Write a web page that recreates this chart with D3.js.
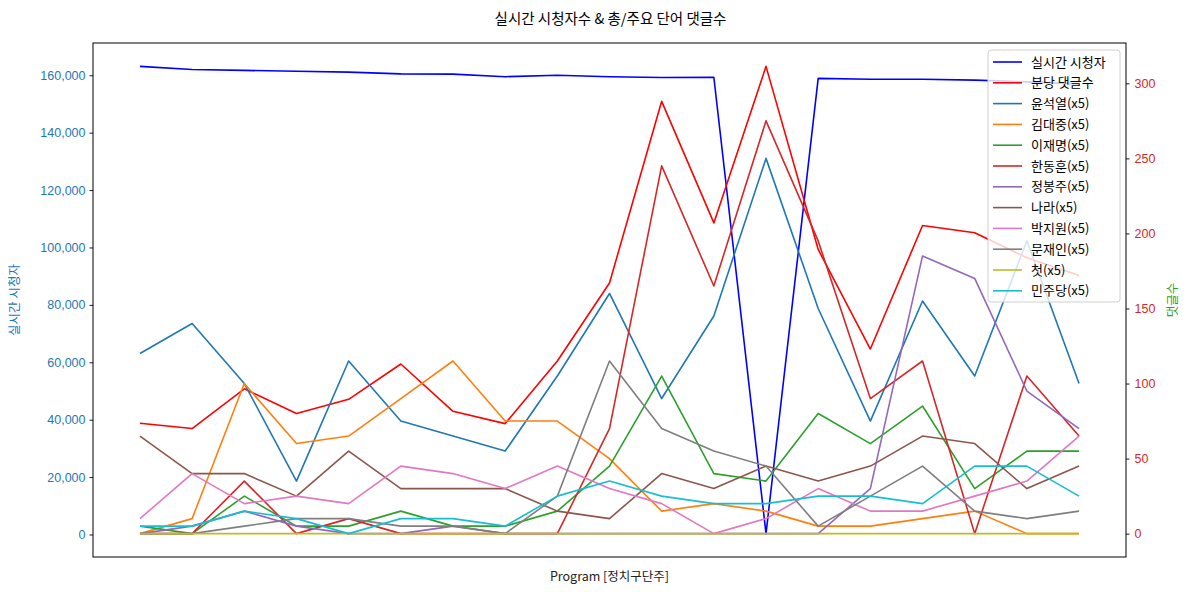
<!DOCTYPE html>
<html>
<head>
<meta charset="utf-8">
<script src="https://cdn.jsdelivr.net/npm/d3@7"></script>
<style>
  html, body { margin: 0; padding: 0; background: #fff; }
  svg { display: block; font-family: "Noto Sans CJK KR", "Noto Sans", sans-serif; }
</style>
</head>
<body>
<svg id="chart" width="1189" height="592"></svg>
<script>
// ---- data ----
const points = d3.range(19); // 19 time points (no visible x tick labels)
const viewers = [163100, 162000, 161700, 161400, 161100, 160500, 160400, 159500, 160000, 159500,
                 159200, 159300, 300, 158900, 158600, 158600, 158300, 157700, 157000];
const commentsPerMin = [73.5, 70, 96.5, 80, 89.5, 113, 81.5, 73.3, 115, 167,
                        288, 207, 311.3, 189.3, 123, 205.3, 200.4, 183.8, 172];
const wordNames = ["윤석열(x5)", "김대중(x5)", "이재명(x5)", "한동훈(x5)", "정봉주(x5)",
                   "나라(x5)", "박지원(x5)", "문재인(x5)", "첫(x5)", "민주당(x5)"];
const yoon   = [120, 140, 100, 35, 115, 75, 65, 55, 105, 160, 90, 145, 250, 150, 75, 155, 105, 195, 100];
const kimdj  = [0, 10, 100, 60, 65, 90, 115, 75, 75, 50, 15, 20, 15, 5, 5, 10, 15, 0, 0];
const lee    = [5, 0, 25, 5, 5, 15, 5, 5, 15, 45, 105, 40, 35, 80, 60, 85, 30, 55, 55];
const han    = [0, 0, 35, 0, 10, 0, 0, 0, 0, 70, 245, 165, 275, 195, 90, 115, 0, 105, 65];
const jung   = [0, 5, 15, 5, 0, 0, 5, 0, 0, 0, 0, 0, 0, 0, 30, 185, 170, 95, 70];
const nara   = [65, 40, 40, 25, 55, 30, 30, 30, 15, 10, 40, 30, 45, 35, 45, 65, 60, 30, 45];
const park   = [10, 40, 20, 25, 20, 45, 40, 30, 45, 30, 20, 0, 10, 30, 15, 15, 25, 35, 65];
const moon   = [0, 0, 5, 10, 10, 5, 5, 0, 25, 115, 70, 55, 45, 5, 25, 45, 15, 10, 15];
const first  = [0, 0, 0, 0, 0, 0, 0, 0, 0, 0, 0, 0, 0, 0, 0, 0, 0, 0, 0];
const minjoo = [5, 5, 15, 10, 0, 10, 10, 5, 25, 35, 25, 20, 20, 25, 25, 20, 45, 45, 25];
const wordSeries = [yoon, kimdj, lee, han, jung, nara, park, moon, first, minjoo];
const leftTicks = [0, 20000, 40000, 60000, 80000, 100000, 120000, 140000, 160000];
const rightTicks = [0, 50, 100, 150, 200, 250, 300];
const titleText = "실시간 시청자수 & 총/주요 단어 댓글수";
const xLabelText = "Program [정치구단주]";
const leftLabelText = "실시간 시청자";
const rightLabelText = "댓글수";

// ---- styles ----
const wordColors = ["#1f77b4", "#ff7f0e", "#2ca02c", "#d62728", "#9467bd",
                    "#8c564b", "#e377c2", "#7f7f7f", "#bcbd22", "#17becf"];
const L = 93, R = 1126, T = 43, B = 557;

const svg = d3.select("#chart");

function padded(min, max) { const m = (max - min) * 0.05; return [min - m, max + m]; }

const x = d3.scaleLinear().domain(padded(0, points.length - 1)).range([L, R]);
const yL = d3.scaleLinear().domain(padded(d3.min(viewers), d3.max(viewers))).range([B, T]);
const allRight = [commentsPerMin].concat(wordSeries).flat();
const yR = d3.scaleLinear().domain(padded(d3.min(allRight), d3.max(allRight))).range([B, T]);

// left axis
const axL = svg.append("g").attr("transform", `translate(${L},0)`)
  .call(d3.axisLeft(yL).tickValues(leftTicks).tickFormat(d3.format(",")).tickSizeOuter(0).tickSize(3.5).tickPadding(4));
axL.select(".domain").remove();
axL.selectAll("line").attr("stroke", "#000").attr("stroke-width", 0.9);
axL.selectAll("text").attr("fill", "#1f77b4").style("font-size", "12.5px");

// right axis
const axR = svg.append("g").attr("transform", `translate(${R},0)`)
  .call(d3.axisRight(yR).tickValues(rightTicks).tickSizeOuter(0).tickSize(3.5).tickPadding(5));
axR.select(".domain").remove();
axR.selectAll("line").attr("stroke", "#000").attr("stroke-width", 0.9);
axR.selectAll("text").attr("fill", "#d62728").style("font-size", "12.5px");

// lines
const clip = svg.append("clipPath").attr("id", "clip").append("rect")
  .attr("x", L).attr("y", T).attr("width", R - L).attr("height", B - T);
const plot = svg.append("g").attr("clip-path", "url(#clip)");

const lineL = d3.line().x((d, i) => x(points[i])).y(d => yL(d));
const lineR = d3.line().x((d, i) => x(points[i])).y(d => yR(d));

plot.append("path").datum(viewers).attr("d", lineL)
  .attr("fill", "none").attr("stroke", "#0000ff").attr("stroke-width", 1.6).attr("stroke-linejoin", "round");
plot.append("path").datum(commentsPerMin).attr("d", lineR)
  .attr("fill", "none").attr("stroke", "#ff0000").attr("stroke-width", 1.6).attr("stroke-linejoin", "round");
wordSeries.forEach((s, k) => {
  plot.append("path").datum(s).attr("d", lineR)
    .attr("fill", "none").attr("stroke", wordColors[k]).attr("stroke-width", 1.6).attr("stroke-linejoin", "round");
});

// frame
svg.append("rect").attr("x", L).attr("y", T).attr("width", R - L).attr("height", B - T)
  .attr("fill", "none").attr("stroke", "#000").attr("stroke-width", 1);

// title & labels
svg.append("text").attr("x", (L + R) / 2 + 1).attr("y", 24).attr("text-anchor", "middle")
  .style("font-size", "14.5px").attr("fill", "#000").text(titleText);
svg.append("text").attr("x", (L + R) / 2).attr("y", 581).attr("text-anchor", "middle")
  .style("font-size", "12.5px").attr("fill", "#222").text(xLabelText);
svg.append("text").attr("transform", `translate(19,${(T + B) / 2}) rotate(-90)`).attr("text-anchor", "middle")
  .style("font-size", "12.5px").attr("fill", "#1f77b4").text(leftLabelText);
svg.append("text").attr("transform", `translate(1177,${(T + B) / 2}) rotate(-90)`).attr("text-anchor", "middle")
  .style("font-size", "12.5px").attr("fill", "#2ca02c").text(rightLabelText);

// legend
const legendItems = [{ name: "실시간 시청자", color: "#0000ff" }, { name: "분당 댓글수", color: "#ff0000" }]
  .concat(wordNames.map((n, k) => ({ name: n, color: wordColors[k] })));
const lg = svg.append("g");
lg.append("rect").attr("x", 988).attr("y", 50).attr("width", 132).attr("height", 252)
  .attr("rx", 3).attr("fill", "#fff").attr("fill-opacity", 0.8).attr("stroke", "#d0d0d0").attr("stroke-width", 1);
legendItems.forEach((it, i) => {
  const cy = 62 + i * 20.8;
  lg.append("line").attr("x1", 993).attr("x2", 1022).attr("y1", cy).attr("y2", cy)
    .attr("stroke", it.color).attr("stroke-width", 1.6);
  lg.append("text").attr("x", 1031).attr("y", cy).attr("dy", "0.36em")
    .style("font-size", "13px").attr("fill", "#000").text(it.name);
});
</script>
</body>
</html>
